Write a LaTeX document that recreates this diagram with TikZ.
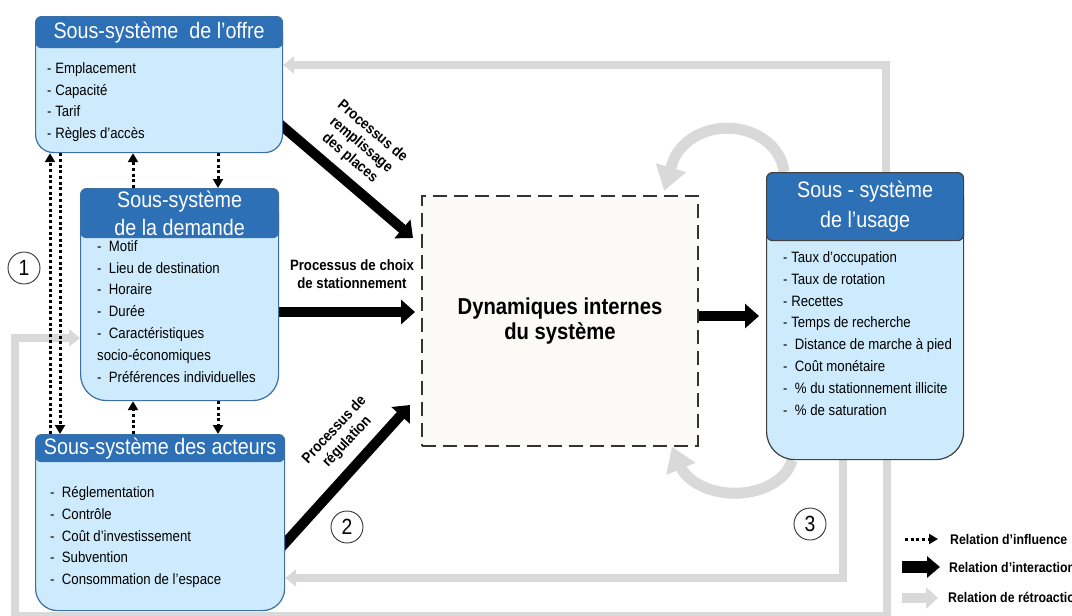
\documentclass[tikz,border=0pt]{standalone}
\usepackage{fontspec}
\setmainfont{Liberation Sans}[FakeStretch=0.88]
\usepackage{tikz}
\usetikzlibrary{arrows.meta, backgrounds}

\definecolor{headblue}{HTML}{2E70B5}
\definecolor{bodyblue}{HTML}{CDEBFC}
\definecolor{edgeblue}{HTML}{3C6FA3}
\definecolor{fbgray}{HTML}{D9D9D9}
\definecolor{dynfill}{HTML}{FBFAF6}

\tikzset{
  body/.style={draw=edgeblue, fill=bodyblue, line width=1.2pt, anchor=north west, inner sep=0pt},
  head/.style={draw=edgeblue, fill=headblue, line width=1.2pt, rounded corners=6pt, anchor=north,
    inner sep=0pt, text=white, align=center, font=\fontsize{22.4}{28}\selectfont},
  item/.style={anchor=west, inner sep=0pt, font=\fontsize{15}{18}\selectfont, text height=11pt, text depth=3.5pt},
  dyn/.style={draw=black!80, fill=dynfill, line width=2pt, dash pattern=on 14pt off 7pt, anchor=north west,
    align=center, font=\bfseries\fontsize{23}{25}\selectfont},
  proc/.style={inner sep=0pt, align=center, font=\bfseries\fontsize{15}{17.5}\selectfont},
  infl/.style={-{Triangle[width=10pt,length=9pt]}, line width=3pt, dash pattern=on 3pt off 2.7pt},
  inter/.style={-{Triangle[width=24pt,length=14pt]}, line width=10pt},
  fb/.style={-{Triangle[width=17pt,length=11pt]}, fbgray, line width=8pt},
  fbloop/.style={-{Triangle[width=30pt,length=24pt]}, fbgray, line width=11pt},
  num/.style={circle, draw=black!80, line width=0.9pt, minimum size=32pt, inner sep=0pt, font=\fontsize{22}{22}\selectfont},
  legend/.style={anchor=west, inner sep=0pt, font=\bfseries\fontsize{14}{16}\selectfont}
}

\begin{document}
\begin{tikzpicture}[x=1pt, y=-1pt]
\useasboundingbox (0,0) rectangle (1072,616);
\clip (0,0) rectangle (1072,616);

% Sous-systeme de l'offre
\node[body, rounded corners=18pt, minimum width=247, minimum height=136] (offre) at (35,16) {};
\node[head, minimum width=247, minimum height=31] (offre-h) at (offre.north) {Sous-système \ de l'offre};
\foreach \t [count=\i] in {- Emplacement, - Capacité, - Tarif, - Règles d'accès}
  \node[item] (offre-\i) at (47,{47.7+21.8*\i}) {\t};

% Sous-systeme de la demande
\node[body, rounded corners=26pt, minimum width=198, minimum height=212] (demande) at (80,188) {};
\node[head, minimum width=198, minimum height=49] (demande-h) at (demande.north) {Sous-système\\de la demande};
\foreach \t [count=\i] in {-~ Motif, -~ Lieu de destination, -~ Horaire, -~ Durée,
    -~ Caractéristiques, socio-économiques, -~ Préférences individuelles}
  \node[item] (demande-\i) at (97,{225.7+21.8*\i}) {\t};

% Sous-systeme des acteurs
\node[body, rounded corners=22pt, minimum width=249, minimum height=176] (acteurs) at (35,434) {};
\node[head, minimum width=249, minimum height=27] (acteurs-h) at (acteurs.north) {Sous-système des acteurs};
\foreach \t [count=\i] in {-~ Réglementation, -~ Contrôle, -~ Coût d'investissement, -~ Subvention,
    -~ Consommation de l'espace}
  \node[item] (acteurs-\i) at (50,{471.6+21.9*\i}) {\t};

% Sous-systeme de l'usage
\node[body, draw=black!75, rounded corners=28pt, minimum width=197, minimum height=287] (usage) at (766,172) {};
\node[head, draw=black!75, minimum width=197, minimum height=68, font=\fontsize{22.4}{30}\selectfont]
  (usage-h) at (usage.north) {Sous - système\\de l'usage};
\foreach \t [count=\i] in {- Taux d'occupation, - Taux de rotation, - Recettes, - Temps de recherche,
    -~ Distance de marche à pied, -~ Coût monétaire, -~ \% du stationnement illicite, -~ \% de saturation}
  \node[item] (usage-\i) at (783,{236.6+21.9*\i}) {\t};

% Dynamiques internes
\node[dyn, minimum width=276, minimum height=250] (dyn) at (421,195) {Dynamiques internes\\du système};

\coordinate (fb-corner) at (15,616);

\begin{pgfonlayer}{background}
% Relations de retroaction
\draw[fb] (886,0 |- usage.north) |- (offre.east |- 0,65);
\draw[fb] (843,0 |- usage.south) |- (acteurs.east |- 0,578);
\draw[fb] (887,0 |- usage.south) |- (fb-corner) |- (demande.west |- 0,338);
\draw[fbloop] (784,0 |- usage.north) arc[start angle=-5, end angle=-165, x radius=57, y radius=48] -- ++(-8,27);
\draw[fbloop] (792,0 |- usage.south) arc[start angle=10, end angle=165, x radius=58, y radius=40] -- ++(-7,-17);

% Relations d'influence
\draw[infl] (50,0 |- acteurs.north) -- (50,0 |- offre.south);
\draw[infl] (60,0 |- offre.south) -- (60,0 |- acteurs.north);
\draw[infl] (133,0 |- demande.north) -- (133,0 |- offre.south);
\draw[infl] (218,0 |- offre.south) -- (218,0 |- demande.north);
\draw[infl] (133,0 |- acteurs.north) -- (133,0 |- demande.south);
\draw[infl] (218,0 |- demande.south) -- (218,0 |- acteurs.north);

% Relations d'interaction
\draw[inter, shorten <=-12pt] (offre.east |- 0,127) -- ([shift={(-8,43)}]dyn.north west);
\draw[inter, shorten <=-8pt, shorten >=6pt] (demande.east |- 0,312) -- (dyn.west |- 0,312);
\draw[inter, shorten <=-12pt] (acteurs.east |- 0,543) -- ([shift={(-11,210)}]dyn.north west);
\draw[inter, shorten <=-8pt, shorten >=7pt] (dyn.east |- 0,316) -- (usage.west |- 0,316);
\end{pgfonlayer}

% Processus
\node[proc, rotate=-40] (p-fill) at (361,145) {Processus de\\remplissage\\des places};
\node[proc] (p-choice) at (352,274) {Processus de choix\\de stationnement};
\node[proc, rotate=47] (p-reg) at (341,436) {Processus de\\régulation};

% Numeros
\node[num] (n1) at (24,268) {1};
\node[num] (n2) at (347,527) {2};
\node[num] (n3) at (810,524) {3};

% Legende
\node[legend] (lg-t1) at (950,539) {Relation d'influence};
\node[legend] (lg-t2) at (949,567) {Relation d'interaction};
\node[legend] (lg-t3) at (948,597) {Relation de rétroaction};
\coordinate (lg-a1) at (905,539);
\coordinate (lg-a2) at (902,567);
\coordinate (lg-a3) at (902,598);
\draw[infl] (lg-a1) -- ([xshift=-12pt]lg-t1.west);
\draw[inter, line width=12pt, -{Triangle[width=21pt,length=13pt]}] (lg-a2) -- ([xshift=-9pt]lg-t2.west);
\draw[fb, line width=10pt, -{Triangle[width=21pt,length=12pt]}] (lg-a3) -- ([xshift=-10pt]lg-t3.west |- lg-a3);
\end{tikzpicture}
\end{document}
